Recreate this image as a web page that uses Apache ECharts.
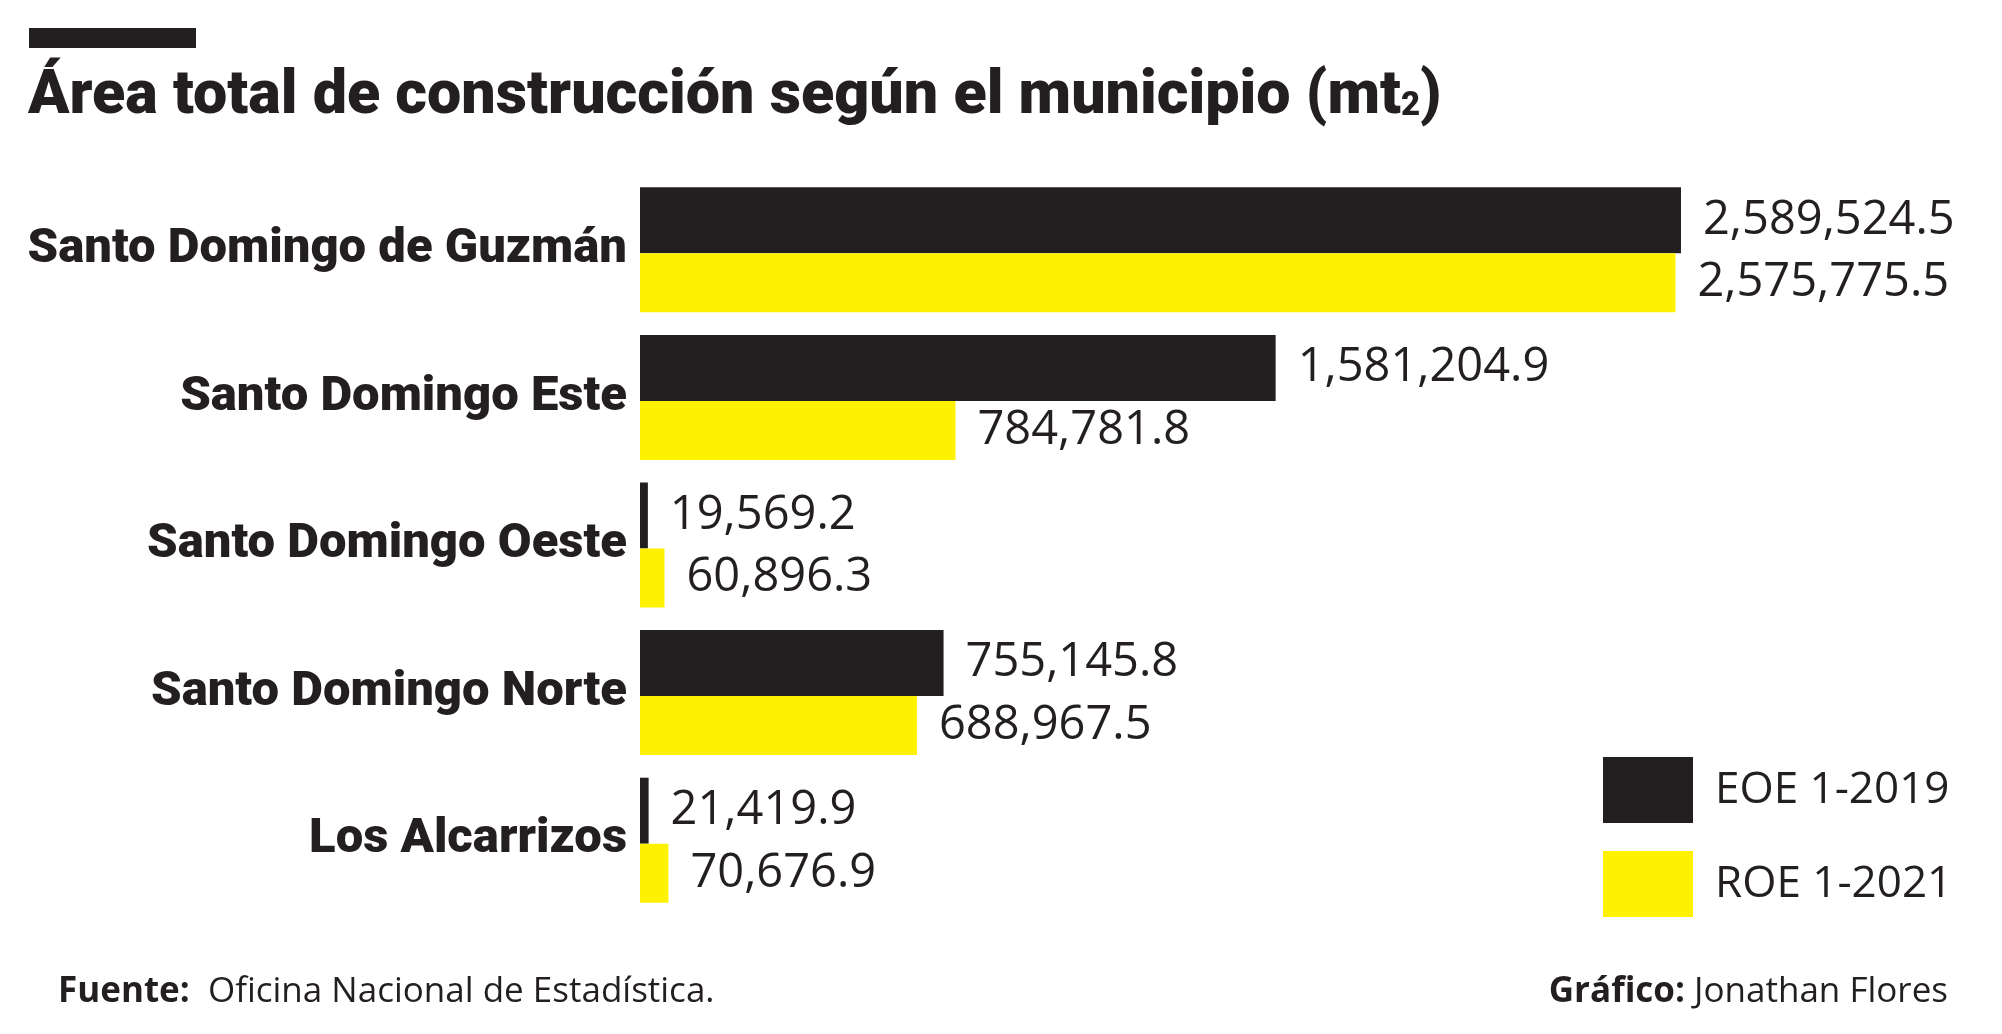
<!DOCTYPE html>
<html>
<head>
<meta charset="utf-8">
<script src="https://cdn.jsdelivr.net/npm/echarts@6/dist/echarts.min.js"></script>
<style>
html,body{margin:0;padding:0;background:#fff;}
#chart{width:2002px;height:1034px;}
</style>
</head>
<body>
<div id="chart"></div>
<script>
const categories = ['Santo Domingo de Guzmán', 'Santo Domingo Este', 'Santo Domingo Oeste', 'Santo Domingo Norte', 'Los Alcarrizos'];
const seriesNames = ['EOE 1-2019', 'ROE 1-2021'];
const eoe2019 = [2589524.5, 1581204.9, 19569.2, 755145.8, 21419.9];
const roe2021 = [2575775.5, 784781.8, 60896.3, 688967.5, 70676.9];
const titleText = 'Área total de construcción según el municipio (mt';
const sourceLabel = 'Fuente:';
const sourceText = 'Oficina Nacional de Estadística.';
const creditLabel = 'Gráfico:';
const creditText = 'Jonathan Flores';

const INK = '#231f20';
const YELLOW = '#fff200';
const fmt = v => v.toLocaleString('en-US', {minimumFractionDigits: 1, maximumFractionDigits: 1});

const chart = echarts.init(document.getElementById('chart'), null, {renderer: 'canvas'});
const valueLabel = {
  show: true, position: 'right', distance: 22,
  color: INK, fontFamily: 'Open Sans', fontSize: 47,
  formatter: p => fmt(p.value)
};
chart.setOption({
  backgroundColor: '#ffffff',
  animation: false,
  title: {
    text: '{t|' + titleText + '}{s|2}{t|)}',
    left: 28, top: 67, padding: 0,
    textStyle: {
      rich: {
        t: {fontFamily: 'Roboto', fontWeight: 900, fontSize: 61, color: INK},
        s: {fontFamily: 'Roboto', fontWeight: 900, fontSize: 33, color: INK, padding: [18, 0, 0, 0]}
      }
    }
  },
  legend: {
    orient: 'vertical', left: 1598, top: 752,
    itemWidth: 90, itemHeight: 66, itemGap: 28,
    icon: 'rect',
    data: seriesNames,
    textStyle: {color: INK, fontFamily: 'Open Sans', fontSize: 44, padding: [0, 0, 0, 17]}
  },
  grid: {left: 640, top: 176, width: 1206, height: 738, containLabel: false, outerBoundsMode: 'none'},
  xAxis: {
    type: 'value', min: 0, max: 3000000, show: false
  },
  yAxis: {
    type: 'category', data: categories, inverse: true,
    axisLine: {show: false}, axisTick: {show: false}, splitLine: {show: false},
    axisLabel: {color: INK, fontFamily: 'Roboto', fontWeight: 900, fontSize: 49, margin: 13}
  },
  series: [
    {name: seriesNames[0], type: 'bar', data: eoe2019, barWidth: 66, barGap: '0%',
     itemStyle: {color: INK}, label: valueLabel},
    {name: seriesNames[1], type: 'bar', data: roe2021, barWidth: 59, barGap: '0%',
     itemStyle: {color: YELLOW}, label: valueLabel}
  ],
  graphic: [
    {type: 'rect', left: 29, top: 28, shape: {width: 167, height: 20}, style: {fill: INK}},
    {type: 'text', left: 58, top: 975, style: {
      text: '{b|' + sourceLabel + '  }{r|' + sourceText + '}',
      rich: {
        b: {fontFamily: 'Open Sans', fontWeight: 'bold', fontSize: 35, fill: INK},
        r: {fontFamily: 'Open Sans', fontSize: 35, fill: INK}
      }
    }},
    {type: 'text', right: 54, top: 975, style: {
      text: '{b|' + creditLabel + ' }{r|' + creditText + '}',
      rich: {
        b: {fontFamily: 'Open Sans', fontWeight: 'bold', fontSize: 35, fill: INK},
        r: {fontFamily: 'Open Sans', fontSize: 35, fill: INK}
      }
    }}
  ]
});
</script>
</body>
</html>
